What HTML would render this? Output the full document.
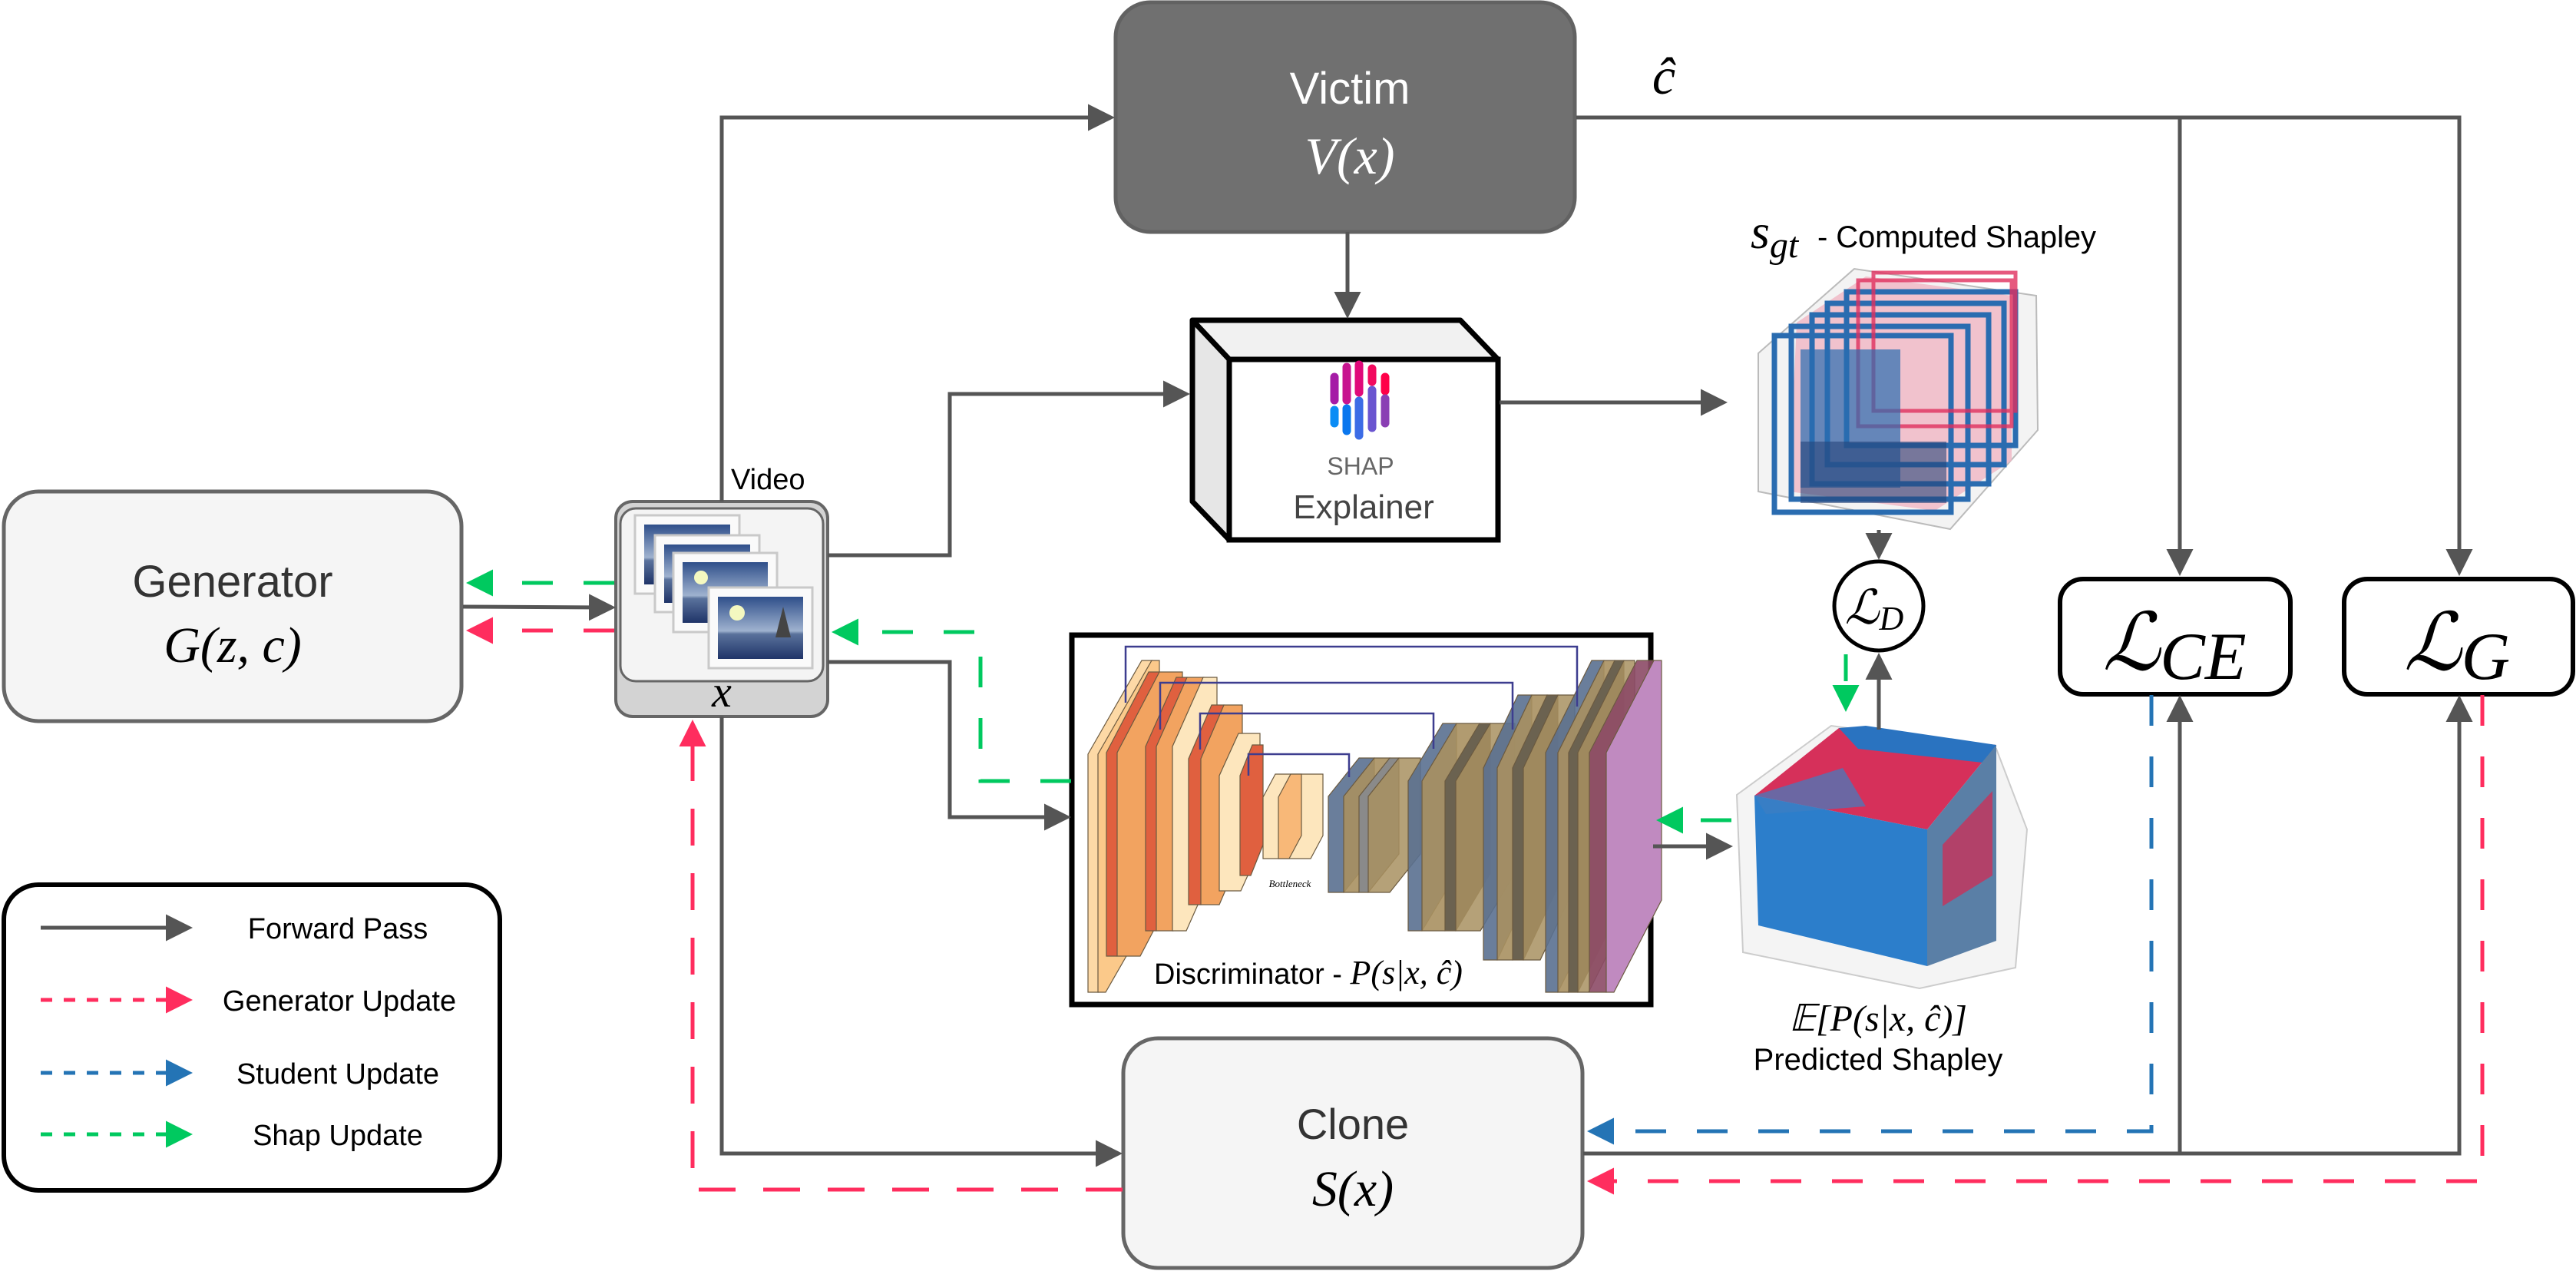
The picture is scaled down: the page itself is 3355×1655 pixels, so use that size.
<!DOCTYPE html>
<html><head><meta charset="utf-8"><style>
html,body{margin:0;padding:0;background:#fff;}
svg{display:block;}
.s{font-family:"Liberation Sans",sans-serif;}
.m{font-family:"Liberation Serif","DejaVu Serif",serif;font-style:italic;}
</style></head><body>
<svg width="3355" height="1655" viewBox="0 0 3355 1655" xmlns="http://www.w3.org/2000/svg">
<defs>
<marker id="aG" markerWidth="8" markerHeight="8" refX="6" refY="4" orient="auto" markerUnits="strokeWidth"><path d="M0,0.5 L7,4 L0,7.5 Z" fill="#555"/></marker>
<marker id="aR" markerWidth="8" markerHeight="8" refX="6" refY="4" orient="auto" markerUnits="strokeWidth"><path d="M0,0.5 L7,4 L0,7.5 Z" fill="#ff2d5e"/></marker>
<marker id="aB" markerWidth="8" markerHeight="8" refX="6" refY="4" orient="auto" markerUnits="strokeWidth"><path d="M0,0.5 L7,4 L0,7.5 Z" fill="#2474b5"/></marker>
<marker id="aN" markerWidth="8" markerHeight="8" refX="6" refY="4" orient="auto" markerUnits="strokeWidth"><path d="M0,0.5 L7,4 L0,7.5 Z" fill="#00c95f"/></marker>
<linearGradient id="img" x1="0" y1="0" x2="0" y2="1"><stop offset="0" stop-color="#2f4f8a"/><stop offset="0.55" stop-color="#9fb2cf"/><stop offset="0.6" stop-color="#5a729c"/><stop offset="1" stop-color="#1f3468"/></linearGradient>
</defs>

<!-- Generator -->
<rect x="5" y="640" width="596" height="299" rx="45" fill="#f5f5f5" stroke="#666" stroke-width="5"/>
<text x="303" y="777" text-anchor="middle" class="s" font-size="58" fill="#333">Generator</text>
<text x="303" y="862" text-anchor="middle" class="m" font-size="66" fill="#000">G(z, c)</text>

<!-- Victim -->
<rect x="1453" y="3" width="598" height="299" rx="45" fill="#707070" stroke="#626262" stroke-width="5"/>
<text x="1758" y="135" text-anchor="middle" class="s" font-size="58" fill="#fff">Victim</text>
<text x="1758" y="226" text-anchor="middle" class="m" font-size="68" fill="#fff">V(x)</text>

<!-- Clone -->
<rect x="1463" y="1352" width="598" height="299" rx="45" fill="#f5f5f5" stroke="#666" stroke-width="5"/>
<text x="1762" y="1483" text-anchor="middle" class="s" font-size="56" fill="#333">Clone</text>
<text x="1762" y="1570" text-anchor="middle" class="m" font-size="66" fill="#000">S(x)</text>

<!-- Video icon -->
<rect x="802" y="653" width="276" height="280" rx="22" fill="#d3d3d3" stroke="#666" stroke-width="4"/>
<rect x="808" y="662" width="264" height="225" rx="20" fill="#f4f4f4" stroke="#666" stroke-width="3"/>
<g>
<rect x="827" y="671" width="136" height="102" fill="#fafafa" stroke="#c9c9c9" stroke-width="3"/><rect x="839" y="683" width="112" height="78" fill="url(#img)"/>
<rect x="853" y="697" width="136" height="100" fill="#fafafa" stroke="#c9c9c9" stroke-width="3"/><rect x="865" y="709" width="112" height="76" fill="url(#img)"/>
<rect x="877" y="720" width="135" height="103" fill="#fafafa" stroke="#c9c9c9" stroke-width="3"/><rect x="889" y="732" width="111" height="79" fill="url(#img)"/><circle cx="913" cy="752" r="9" fill="#f4f8c0"/>
<rect x="923" y="765" width="135" height="105" fill="#fafafa" stroke="#c9c9c9" stroke-width="3"/><rect x="935" y="777" width="111" height="81" fill="url(#img)"/><circle cx="960" cy="798" r="10" fill="#f4f8c0"/>
<path d="M1020,790 L1030,830 L1010,830 Z" fill="#444"/>
</g>
<text x="940" y="920" text-anchor="middle" class="m" font-size="58" fill="#000">x</text>
<text x="952" y="637" class="s" font-size="38" fill="#000">Video</text>

<!-- Explainer 3D box -->
<polygon points="1553,417 1902,417 1951,468 1601,468" fill="#f1f1f1" stroke="#000" stroke-width="7" stroke-linejoin="round"/>
<polygon points="1553,417 1601,468 1601,703 1553,653" fill="#e6e6e6" stroke="#000" stroke-width="7" stroke-linejoin="round"/>
<rect x="1601" y="468" width="350" height="235" fill="#fff" stroke="#000" stroke-width="7"/>
<g stroke-linecap="round" stroke-width="11">
<line x1="1738" y1="491" x2="1738" y2="521" stroke="#a51ca6"/><line x1="1754" y1="478" x2="1754" y2="521" stroke="#c7148f"/><line x1="1770" y1="475" x2="1770" y2="511" stroke="#e00a7a"/><line x1="1787" y1="480" x2="1787" y2="497" stroke="#f20a5e"/><line x1="1804" y1="491" x2="1804" y2="509" stroke="#ff0048"/>
<line x1="1738" y1="534" x2="1738" y2="551" stroke="#0a8cf5"/><line x1="1754" y1="532" x2="1754" y2="561" stroke="#0a77ee"/><line x1="1770" y1="522" x2="1770" y2="567" stroke="#3c6ce6"/><line x1="1787" y1="508" x2="1787" y2="557" stroke="#6a55d0"/><line x1="1804" y1="519" x2="1804" y2="551" stroke="#8a3fb4"/>
</g>
<text x="1772" y="618" text-anchor="middle" class="s" font-size="32" fill="#666">SHAP</text>
<text x="1776" y="675" text-anchor="middle" class="s" font-size="44" fill="#444">Explainer</text>

<!-- Discriminator -->
<rect x="1396" y="827" width="754" height="481" fill="#fff" stroke="#000" stroke-width="7"/>
<g id="unet" stroke="#6b5a40" stroke-width="1.2"></g>
<g fill="none" stroke="#3d3d8f" stroke-width="2.5">
<polyline points="1466,915 1466,842 2054,842 2054,920"/>
<polyline points="1511,950 1511,889 1970,889 1970,950"/>
<polyline points="1563,976 1563,929 1867,929 1867,975"/>
<polyline points="1626,1010 1626,982 1757,982 1757,1012"/>
</g>
<text x="1704" y="1281" text-anchor="middle" font-size="38"><tspan class="s">Discriminator - </tspan><tspan class="m" font-size="44">P(s|x, ĉ)</tspan></text>
<text x="1680" y="1155" text-anchor="middle" class="m" font-size="13" font-style="normal">Bottleneck</text>

<!-- Computed Shapley cube -->
<g>
<polygon points="2290,460 2415,350 2652,385 2654,560 2540,689 2290,640" fill="#f3f3f3" stroke="#bbb" stroke-width="2"/>
<polygon points="2340,420 2430,360 2620,385 2620,600 2520,665 2330,640" fill="#f0b9c6" opacity="0.85"/>
<g fill="none" stroke="#2a6cb0" stroke-width="7">
<rect x="2311" y="437" width="230" height="230"/>
<rect x="2333" y="425" width="230" height="225"/>
<rect x="2360" y="410" width="230" height="220"/>
<rect x="2380" y="395" width="230" height="210"/>
<rect x="2405" y="380" width="220" height="200"/>
</g>
<g fill="none" stroke="#e0305f" stroke-width="5" opacity="0.8">
<rect x="2420" y="365" width="200" height="190"/><rect x="2440" y="355" width="185" height="180"/>
</g>
<rect x="2345" y="455" width="130" height="180" fill="#2a6cb0" opacity="0.7"/>
<rect x="2345" y="575" width="190" height="80" fill="#27457a" opacity="0.6"/>
</g>

<!-- Predicted Shapley cube -->
<g>
<polygon points="2262,1035 2385,945 2600,975 2640,1080 2625,1260 2500,1287 2270,1240" fill="#f4f4f4" stroke="#ccc" stroke-width="2"/>
<polygon points="2285,1036 2395,948 2600,970 2510,1080" fill="#d6305a"/>
<polygon points="2395,948 2430,945 2600,970 2600,995 2420,975" fill="#2a73c0"/>
<polygon points="2510,1080 2600,970 2600,1225 2510,1258" fill="#5a7fa6"/>
<polygon points="2530,1100 2595,1030 2595,1140 2530,1180" fill="#c8325a" opacity="0.8"/>
<polygon points="2285,1036 2510,1080 2510,1258 2290,1205" fill="#2c7ecb"/>
<polygon points="2285,1036 2400,1000 2430,1050 2300,1060" fill="#3d7fc2" opacity="0.7"/>
</g>

<!-- s_gt label -->
<text x="2280" y="323" class="m" font-size="64">s<tspan font-size="48" dy="12">gt</tspan></text>
<text x="2367" y="322" class="s" font-size="40" textLength="363">- Computed Shapley</text>

<!-- L_D -->
<circle cx="2447" cy="789" r="58" fill="#fff" stroke="#000" stroke-width="5"/>
<text x="2441" y="812" text-anchor="middle" font-size="62"><tspan class="m">ℒ</tspan><tspan class="m" font-size="44" dy="8">D</tspan></text>

<text x="2446" y="1342" text-anchor="middle" class="m" font-size="48">𝔼[P(s|x, ĉ)]</text>
<text x="2446" y="1393" text-anchor="middle" class="s" font-size="40">Predicted Shapley</text>

<!-- L_CE / L_G -->
<rect x="2683" y="754" width="300" height="150" rx="30" fill="#fff" stroke="#000" stroke-width="6"/>
<text x="2832" y="872" text-anchor="middle" class="m"><tspan font-size="104">ℒ</tspan><tspan font-size="88" dy="12">CE</tspan></text>
<rect x="3053" y="754" width="298" height="150" rx="30" fill="#fff" stroke="#000" stroke-width="6"/>
<text x="3200" y="872" text-anchor="middle" class="m"><tspan font-size="104">ℒ</tspan><tspan font-size="88" dy="12">G</tspan></text>

<text x="2167" y="122" text-anchor="middle" class="m" font-size="68">ĉ</text>

<!-- Forward connectors -->
<g fill="none" stroke="#555" stroke-width="5">
<polyline points="940,653 940,153 1447,153" marker-end="url(#aG)"/>
<line x1="1755" y1="302" x2="1755" y2="410" marker-end="url(#aG)"/>
<polyline points="2053,153 3203,153 3203,745" marker-end="url(#aG)"/>
<line x1="2839" y1="153" x2="2839" y2="745" marker-end="url(#aG)"/>
<polyline points="1078,723 1237,723 1237,513 1545,513" marker-end="url(#aG)"/>
<polyline points="1078,862 1237,862 1237,1064 1390,1064" marker-end="url(#aG)"/>
<line x1="1953" y1="524" x2="2245" y2="524" marker-end="url(#aG)"/>
<line x1="2153" y1="1102" x2="2252" y2="1102" marker-end="url(#aG)"/>
<line x1="2447" y1="690" x2="2447" y2="724" marker-end="url(#aG)"/>
<line x1="2447" y1="950" x2="2447" y2="855" marker-end="url(#aG)"/>
<line x1="603" y1="790" x2="797" y2="791" marker-end="url(#aG)"/>
<polyline points="940,933 940,1502 1457,1502" marker-end="url(#aG)"/>
<polyline points="2062,1502 3203,1502 3203,910" marker-end="url(#aG)"/>
<line x1="2839" y1="1502" x2="2839" y2="910" marker-end="url(#aG)"/>
</g>
<!-- Green dashed -->
<g fill="none" stroke="#00c95f" stroke-width="5" stroke-dasharray="40 40">
<line x1="800" y1="759" x2="612" y2="759" marker-end="url(#aN)"/>
<polyline points="1395,1017 1277,1017 1277,823 1088,823" marker-end="url(#aN)"/>
<line x1="2255" y1="1068" x2="2162" y2="1068" marker-end="url(#aN)"/>
<line x1="2404" y1="852" x2="2404" y2="922" stroke-dasharray="35 30" marker-end="url(#aN)"/>
</g>
<!-- Red dashed -->
<g fill="none" stroke="#ff2d5e" stroke-width="5" stroke-dasharray="40 40">
<line x1="800" y1="821" x2="612" y2="821" marker-end="url(#aR)"/>
<polyline points="1462,1549 902,1549 902,942" stroke-dasharray="48 36" marker-end="url(#aR)"/>
<polyline points="3233,905 3233,1538 2072,1538" marker-end="url(#aR)"/>
</g>
<!-- Blue dashed -->
<polyline points="2802,905 2802,1473 2072,1473" fill="none" stroke="#2474b5" stroke-width="5" stroke-dasharray="40 40" marker-end="url(#aB)"/>

<!-- Legend -->
<rect x="5" y="1152" width="646" height="398" rx="45" fill="#fff" stroke="#000" stroke-width="6"/>
<line x1="53" y1="1208" x2="246" y2="1208" stroke="#555" stroke-width="5" marker-end="url(#aG)"/>
<line x1="53" y1="1302" x2="246" y2="1302" stroke="#ff2d5e" stroke-width="5" stroke-dasharray="15 15" marker-end="url(#aR)"/>
<line x1="53" y1="1397" x2="246" y2="1397" stroke="#2474b5" stroke-width="5" stroke-dasharray="15 15" marker-end="url(#aB)"/>
<line x1="53" y1="1477" x2="246" y2="1477" stroke="#00c95f" stroke-width="5" stroke-dasharray="15 15" marker-end="url(#aN)"/>
<g class="s" font-size="38" text-anchor="middle">
<text x="440" y="1222">Forward Pass</text>
<text x="442" y="1316">Generator Update</text>
<text x="440" y="1411">Student Update</text>
<text x="440" y="1491">Shap Update</text>
</g>
</svg>
<script>
(function(){
var g=document.getElementById('unet'),NS='http://www.w3.org/2000/svg';
function slab(x,yb,h,dx,dy,t,c,op){
 var p=document.createElementNS(NS,'polygon');
 p.setAttribute('points',[x,yb,x,yb-h,x+dx,yb-h-dy,x+dx+t,yb-h-dy,x+dx+t,yb-dy,x+t,yb].join(' '));
 p.setAttribute('fill',c);if(op)p.setAttribute('fill-opacity',op);g.appendChild(p);
}
var LO='#fdd9a6',OR='#f2a360',RD='#e0603f',BL='#5a7090',TN='#a89060',GY='#8a8a8a',CR='#fde6bd';
// encoder group 1
slab(1417,1292,310,70,122,14,LO);slab(1430,1292,310,70,122,10,'#fbc98a');
slab(1441,1245,265,55,105,14,RD);slab(1455,1245,265,55,105,30,OR);
// group 2
slab(1492,1212,240,40,90,14,RD);slab(1506,1212,240,40,90,22,OR);slab(1527,1212,240,40,90,18,CR);
// group 3
slab(1548,1178,190,30,70,16,RD);slab(1564,1178,190,30,70,24,OR);slab(1588,1160,150,25,55,28,CR);
slab(1615,1140,130,16,40,14,RD);
// bottleneck
slab(1645,1118,80,16,30,62,CR);slab(1665,1118,80,16,30,14,'#f8b878');
// decoder 1
slab(1730,1162,125,40,50,20,BL,0.9);slab(1750,1162,125,40,50,20,TN,0.9);slab(1770,1162,125,40,50,12,GY);slab(1782,1162,125,40,50,28,TN,0.85);
// decoder 2
slab(1834,1212,195,45,75,18,BL,0.9);slab(1852,1212,195,45,75,30,TN,0.9);slab(1882,1212,195,45,75,14,'#6b6250');slab(1896,1212,195,45,75,32,TN,0.85);
// decoder 3
slab(1932,1250,250,45,95,18,BL,0.9);slab(1950,1250,250,45,95,20,TN,0.9);slab(1970,1250,250,45,95,14,'#6b6250');slab(1984,1250,250,45,95,22,TN,0.85);
// decoder 4
slab(2013,1292,312,60,120,16,BL,0.9);slab(2029,1292,312,60,120,14,TN,0.9);slab(2043,1292,312,60,120,12,'#6b6250');slab(2055,1292,312,60,120,14,TN,0.85);
// output
slab(2070,1292,312,62,120,22,'#8c4a66',0.9);slab(2092,1292,312,62,120,10,'#c08ac0');
})();
</script>
</body></html>
